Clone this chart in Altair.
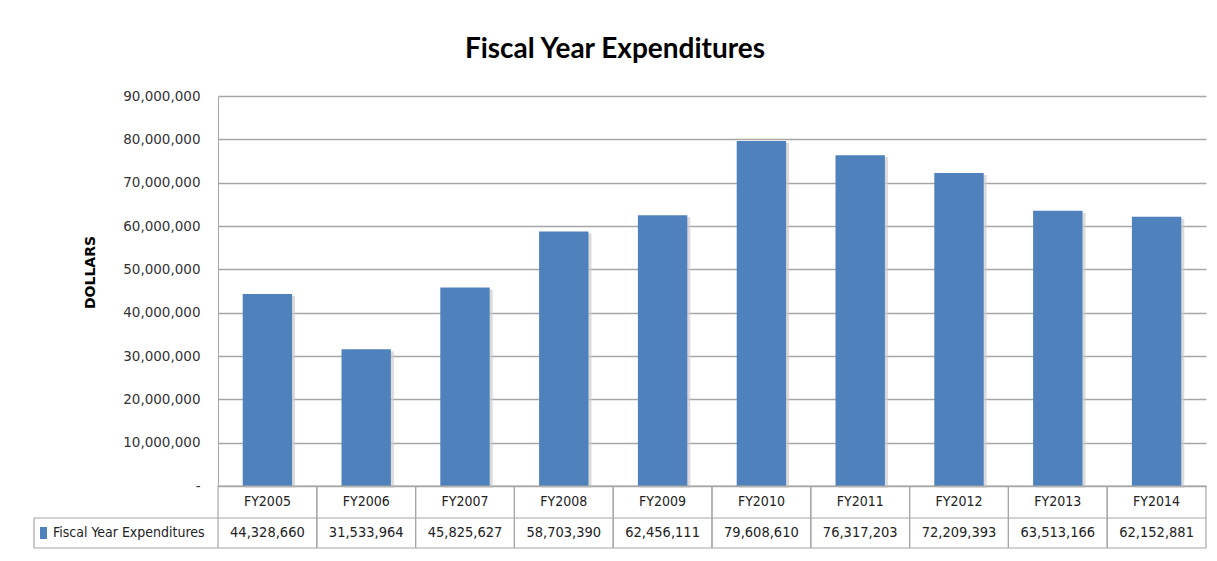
import altair as alt
import pandas as pd

# ---- data ----
categories = ["FY2005", "FY2006", "FY2007", "FY2008", "FY2009",
              "FY2010", "FY2011", "FY2012", "FY2013", "FY2014"]
expenditures = [44328660, 31533964, 45825627, 58703390, 62456111,
                79608610, 76317203, 72209393, 63513166, 62152881]
series_name = "Fiscal Year Expenditures"
chart_title = "Fiscal Year Expenditures"
y_title = "DOLLARS"
y_ticks = [0, 10000000, 20000000, 30000000, 40000000,
           50000000, 60000000, 70000000, 80000000, 90000000]

df = pd.DataFrame({"year": categories, "value": expenditures})
df["label"] = df["value"].map(lambda v: f"{v:,}")
title_df = pd.DataFrame({"t": [chart_title]})
legend_df = pd.DataFrame({"name": [series_name]})
one = pd.DataFrame({"k": [0]})

# ---- layout / style ----
W, H = 988, 390
ROW1 = H + 32          # bottom of category row
ROW2 = H + 62          # bottom of value row
LEG_LEFT = -184
BLUE = "#4F81BD"
LINE = "#a6a6a6"
TXT_FONT = "'DejaVu Sans Condensed', 'DejaVu Sans', sans-serif"
TITLE_FONT = "Lato, 'Liberation Sans Narrow', sans-serif"
NB = "\u00a0"
zero_label = "-" + NB * 3

xscale = alt.Scale(paddingInner=0, paddingOuter=0)
yscale = alt.Scale(domain=[0, 90000000], nice=False)


def xenc(band=0.5):
    return alt.X("year:N", sort=categories, scale=xscale, axis=None, bandPosition=band)


yaxis = alt.Axis(
    values=y_ticks,
    labelExpr="datum.value == 0 ? '" + zero_label + "' : format(datum.value, ',')",
    labelFont="DejaVu Sans", labelFontSize=13.5, labelColor="#333333",
    labelPadding=18, ticks=False,
    grid=True, gridColor=LINE, gridWidth=1.5,
    domain=True, domainColor=LINE, domainWidth=1,
    title=y_title, titleFont="DejaVu Sans", titleFontSize=14, titleFontWeight="bold",
    titleColor="black", titleAngle=270, titleX=-128, titleY=176,
    titleAlign="center", titleBaseline="middle",
)

shadow = alt.Chart(df).mark_bar(width={"band": 0.5}, color="#cccccc", opacity=0.7,
                                xOffset=3, yOffset=2).encode(
    x=xenc(), y=alt.Y("value:Q", scale=yscale, axis=yaxis))

bars = alt.Chart(df).mark_bar(width={"band": 0.5}, color=BLUE).encode(
    x=xenc(), y=alt.Y("value:Q", scale=yscale, axis=yaxis))

row1 = alt.Chart(df).mark_text(font=TXT_FONT, fontSize=14, color="#222222").encode(
    x=xenc(), y=alt.value((H + ROW1) / 2), text="year:N")
row2 = alt.Chart(df).mark_text(font=TXT_FONT, fontSize=14.5, color="#222222").encode(
    x=xenc(), y=alt.value((ROW1 + ROW2) / 2), text="label:N")

vstart = alt.Chart(df).mark_rule(color=LINE, strokeWidth=1.2).encode(
    x=xenc(0), y=alt.value(H), y2=alt.value(ROW2))
vend = alt.Chart(df).mark_rule(color=LINE, strokeWidth=1.2).encode(
    x=xenc(1), y=alt.value(H), y2=alt.value(ROW2))
vleg = alt.Chart(one).mark_rule(color=LINE, strokeWidth=1.2).encode(
    x=alt.value(LEG_LEFT), y=alt.value(ROW1), y2=alt.value(ROW2))
h0 = alt.Chart(one).mark_rule(color=LINE, strokeWidth=1.2).encode(
    x=alt.value(0), x2=alt.value(W), y=alt.value(H))
h1 = alt.Chart(one).mark_rule(color=LINE, strokeWidth=1.2).encode(
    x=alt.value(LEG_LEFT), x2=alt.value(W), y=alt.value(ROW1))
h2 = alt.Chart(one).mark_rule(color=LINE, strokeWidth=1.2).encode(
    x=alt.value(LEG_LEFT), x2=alt.value(W), y=alt.value(ROW2))

swatch = alt.Chart(legend_df).mark_rect(color=BLUE).encode(
    x=alt.value(LEG_LEFT + 6), x2=alt.value(LEG_LEFT + 13),
    y=alt.value((ROW1 + ROW2) / 2 - 6), y2=alt.value((ROW1 + ROW2) / 2 + 6))
legtext = alt.Chart(legend_df).mark_text(font=TXT_FONT, fontSize=14, color="#222222",
                                         align="left").encode(
    x=alt.value(LEG_LEFT + 19), y=alt.value((ROW1 + ROW2) / 2), text="name:N")

title = alt.Chart(title_df).mark_text(font=TITLE_FONT, fontSize=28, fontWeight="bold",
                                      color="black", baseline="alphabetic").encode(
    x=alt.value(397), y=alt.value(-38), text="t:N")

chart = alt.layer(
    shadow, bars, h0, h1, h2, vstart, vend, vleg, row1, row2, swatch, legtext, title
).properties(
    width=W, height=H,
    background="white",
    autosize=alt.AutoSizeParams(type="none"),
    padding={"left": 210, "top": 88, "right": 3, "bottom": 67},
).configure_view(strokeWidth=0)

chart.save("out.html", embed_options={"renderer": "svg", "actions": False})
